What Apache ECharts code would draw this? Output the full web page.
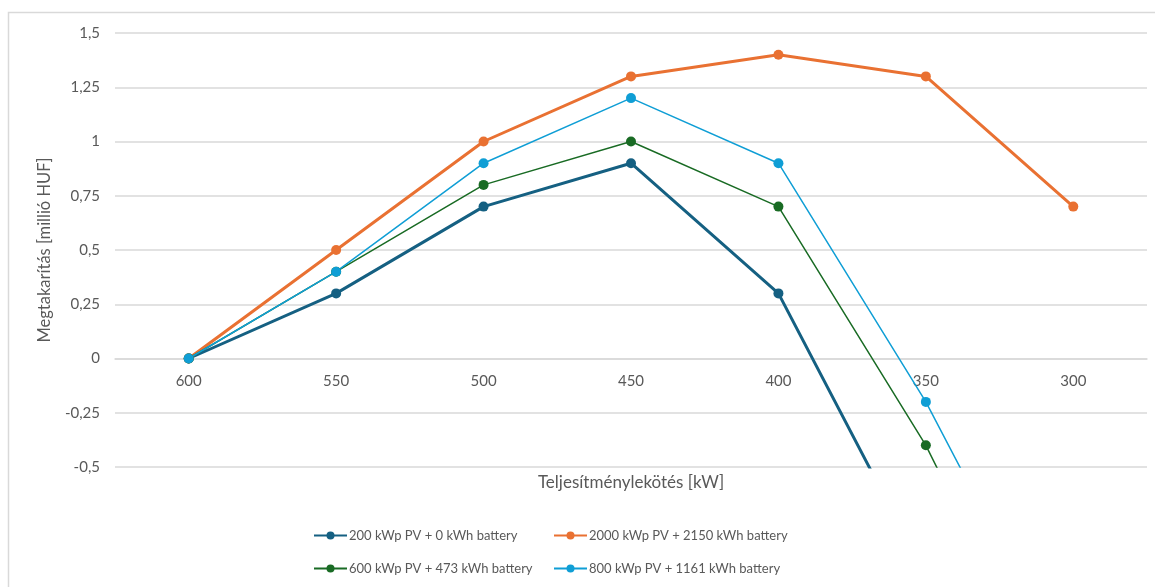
<!DOCTYPE html>
<html>
<head>
<meta charset="utf-8">
<script src="https://cdn.jsdelivr.net/npm/echarts@6/dist/echarts.min.js"></script>
<style>
  html, body { margin: 0; padding: 0; background: #fff; }
  #main { width: 1155px; height: 587px; }
</style>
</head>
<body>
<div id="main"></div>
<script>
var categories = ['600', '550', '500', '450', '400', '350', '300'];

var pv200 = [0, 0.3, 0.7, 0.9, 0.3, -1.0, -1.9];
var pv2000 = [0, 0.5, 1.0, 1.3, 1.4, 1.3, 0.7];
var pv600 = [0, 0.4, 0.8, 1.0, 0.7, -0.4, -1.77];
var pv800 = [0, 0.4, 0.9, 1.2, 0.9, -0.2, -1.5];

var names = [
  '200 kWp PV + 0 kWh battery',
  '2000 kWp PV + 2150 kWh battery',
  '600 kWp PV + 473 kWh battery',
  '800 kWp PV + 1161 kWh battery'
];

var font = 'Lato';
var textGrey = '#595959';

var chart = echarts.init(document.getElementById('main'));

function legendAt(name, left, top) {
  return {
    data: [name],
    left: left,
    top: top,
    padding: 0,
    itemWidth: 33,
    itemHeight: 10,
    itemGap: 0,
    textStyle: { color: textGrey, fontSize: 13, fontFamily: font, padding: [0, 0, 0, -3] }
  };
}

function line(name, data, color, width) {
  return {
    name: name,
    type: 'line',
    data: data,
    symbol: 'circle',
    symbolSize: 10,
    lineStyle: { color: color, width: width },
    itemStyle: { color: color },
    clip: true,
    animation: false
  };
}

var option = {
  backgroundColor: '#fff',
  animation: false,
  grid: { left: 115, right: 8, top: 33, bottom: 120 },
  graphic: [
    {
      type: 'rect',
      shape: { x: 8.5, y: 12.5, width: 1200, height: 700 },
      style: { fill: null, stroke: '#d9d9d9', lineWidth: 1.5 },
      silent: true
    },
    {
      type: 'text',
      x: 631,
      y: 483,
      style: {
        text: 'Teljesítménylekötés [kW]',
        fill: textGrey,
        font: '17px ' + font,
        textAlign: 'center',
        textVerticalAlign: 'middle'
      }
    }
  ],
  legend: [
    legendAt(names[0], 313, 529),
    legendAt(names[1], 553, 529),
    legendAt(names[2], 313, 562),
    legendAt(names[3], 553, 562)
  ],
  xAxis: {
    type: 'category',
    data: categories,
    position: 'bottom',
    // the axis sits on the zero line of the value axis
    offset: -108,
    axisLine: { onZero: false, lineStyle: { color: '#d9d9d9', width: 1.5 } },
    axisTick: { show: false },
    axisLabel: { color: textGrey, fontSize: 15, fontFamily: font, margin: 15 }
  },
  yAxis: {
    type: 'value',
    min: -0.5,
    max: 1.5,
    interval: 0.25,
    name: 'Megtakarítás [millió HUF]',
    nameLocation: 'middle',
    nameGap: 62,
    nameTextStyle: { color: textGrey, fontSize: 16.5, fontFamily: font },
    axisLine: { show: false },
    axisTick: { show: false },
    splitLine: { lineStyle: { color: '#d9d9d9', width: 1.5 } },
    axisLabel: {
      color: textGrey,
      fontSize: 15,
      fontFamily: font,
      margin: 15,
      formatter: function (v) { return String(v).replace('.', ','); }
    }
  },
  series: [
    line(names[0], pv200, '#156082', 3),
    line(names[1], pv2000, '#E97132', 3),
    line(names[2], pv600, '#196B24', 1.5),
    line(names[3], pv800, '#0F9ED5', 1.5)
  ]
};

chart.setOption(option);
</script>
</body>
</html>
